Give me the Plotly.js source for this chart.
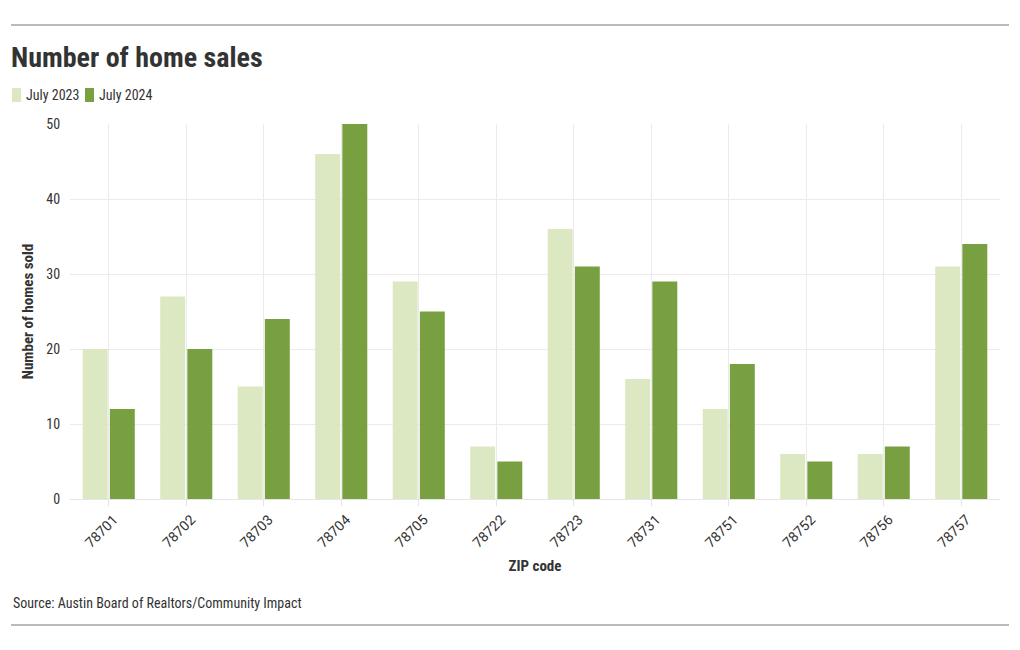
<!DOCTYPE html>
<html><head><meta charset="utf-8">
<script src="https://cdn.plot.ly/plotly-3.0.1.min.js"></script>
<style>body{margin:0;background:#fff}#chart{width:1020px;height:650px}</style>
</head><body><div id="chart"></div>
<script>
const zipCodes = ["78701","78702","78703","78704","78705","78722","78723","78731","78751","78752","78756","78757"];
const july2023 = [20,27,15,46,29,7,36,16,12,6,6,31];
const july2024 = [12,20,24,50,25,5,31,29,18,5,7,34];
const seriesNames = ["July 2023","July 2024"];
const seriesColors = ["#dce8c2","#78a040"];

const FONT = "'Roboto Condensed', 'Liberation Sans Narrow', 'DejaVu Sans Condensed', Roboto, sans-serif";
const L=70, R=1000, T=124, B=499;
const px = x => (x-L)/(R-L);
const py = y => (B-y)/(B-T);

const data = [
  {type:'bar', name:seriesNames[0], x:zipCodes, y:july2023, marker:{color:seriesColors[0]}, showlegend:false, hovertemplate:'%{x}: %{y}<extra></extra>'},
  {type:'bar', name:seriesNames[1], x:zipCodes, y:july2024, marker:{color:seriesColors[1]}, showlegend:false, hovertemplate:'%{x}: %{y}<extra></extra>'}
];

// manual compact legend (swatch + label), positioned like the reference
const legendItems = [{sx:12, tx:24}, {sx:85, tx:97}];
const legendShapes = legendItems.map((it,i)=>({type:'rect', xref:'paper', yref:'paper',
  x0:px(it.sx), x1:px(it.sx+9), y0:py(102), y1:py(88), fillcolor:seriesColors[i], line:{width:0}}));
const legendAnn = legendItems.map((it,i)=>({text:seriesNames[i], xref:'paper', yref:'paper', x:px(it.tx), y:py(95),
  xanchor:'left', yanchor:'middle', showarrow:false, font:{family:FONT, size:14, color:'#333'}}));

const layout = {
  width:1020, height:650,
  margin:{l:L, r:1020-R, t:T, b:650-B},
  paper_bgcolor:'#fff', plot_bgcolor:'#fff',
  font:{family:FONT, color:'#333', size:12},
  barmode:'group', bargap:0.3, bargroupgap:0.08,
  title:{text:'<b>Number of home sales</b>', x:11/1020, xanchor:'left', xref:'container', y:1-57/650, yanchor:'middle', yref:'container', font:{family:FONT, size:28, color:'#333'}},
  showlegend:false,
  xaxis:{type:'category', tickangle:-45, showgrid:true, gridcolor:'#ebebeb', showline:true, linecolor:'#e6e6e6', ticks:'outside', ticklen:6, tickcolor:'#e6e6e6',
    ticklabelshift:5, tickfont:{family:"Roboto, sans-serif", size:14, color:'#333'},
    title:{text:'<b>ZIP code</b>', font:{family:FONT, size:15, color:'#333'}, standoff:10}},
  yaxis:{range:[0,50], dtick:10, showgrid:true, gridcolor:'#ebebeb', zeroline:false, showline:false, ticks:'outside', ticklen:6, tickcolor:'#fff', tickfont:{family:FONT, size:14, color:'#333'},
    title:{text:'<b>Number of homes sold</b>', font:{family:FONT, size:15, color:'#333'}, standoff:9}},
  shapes:[
    {type:'line', xref:'paper', yref:'paper', x0:px(11), x1:px(1009), y0:py(25), y1:py(25), line:{color:'#777', width:1}},
    {type:'line', xref:'paper', yref:'paper', x0:px(11), x1:px(1009), y0:py(625), y1:py(625), line:{color:'#777', width:1}}
  ].concat(legendShapes),
  annotations:[
    {text:'Source: Austin Board of Realtors/Community Impact', xref:'paper', yref:'paper', x:px(11), y:py(603), xanchor:'left', yanchor:'middle', showarrow:false, font:{family:FONT, size:14, color:'#333'}}
  ].concat(legendAnn)
};
Plotly.newPlot('chart', data, layout, {displayModeBar:false, responsive:false});
</script></body></html>
